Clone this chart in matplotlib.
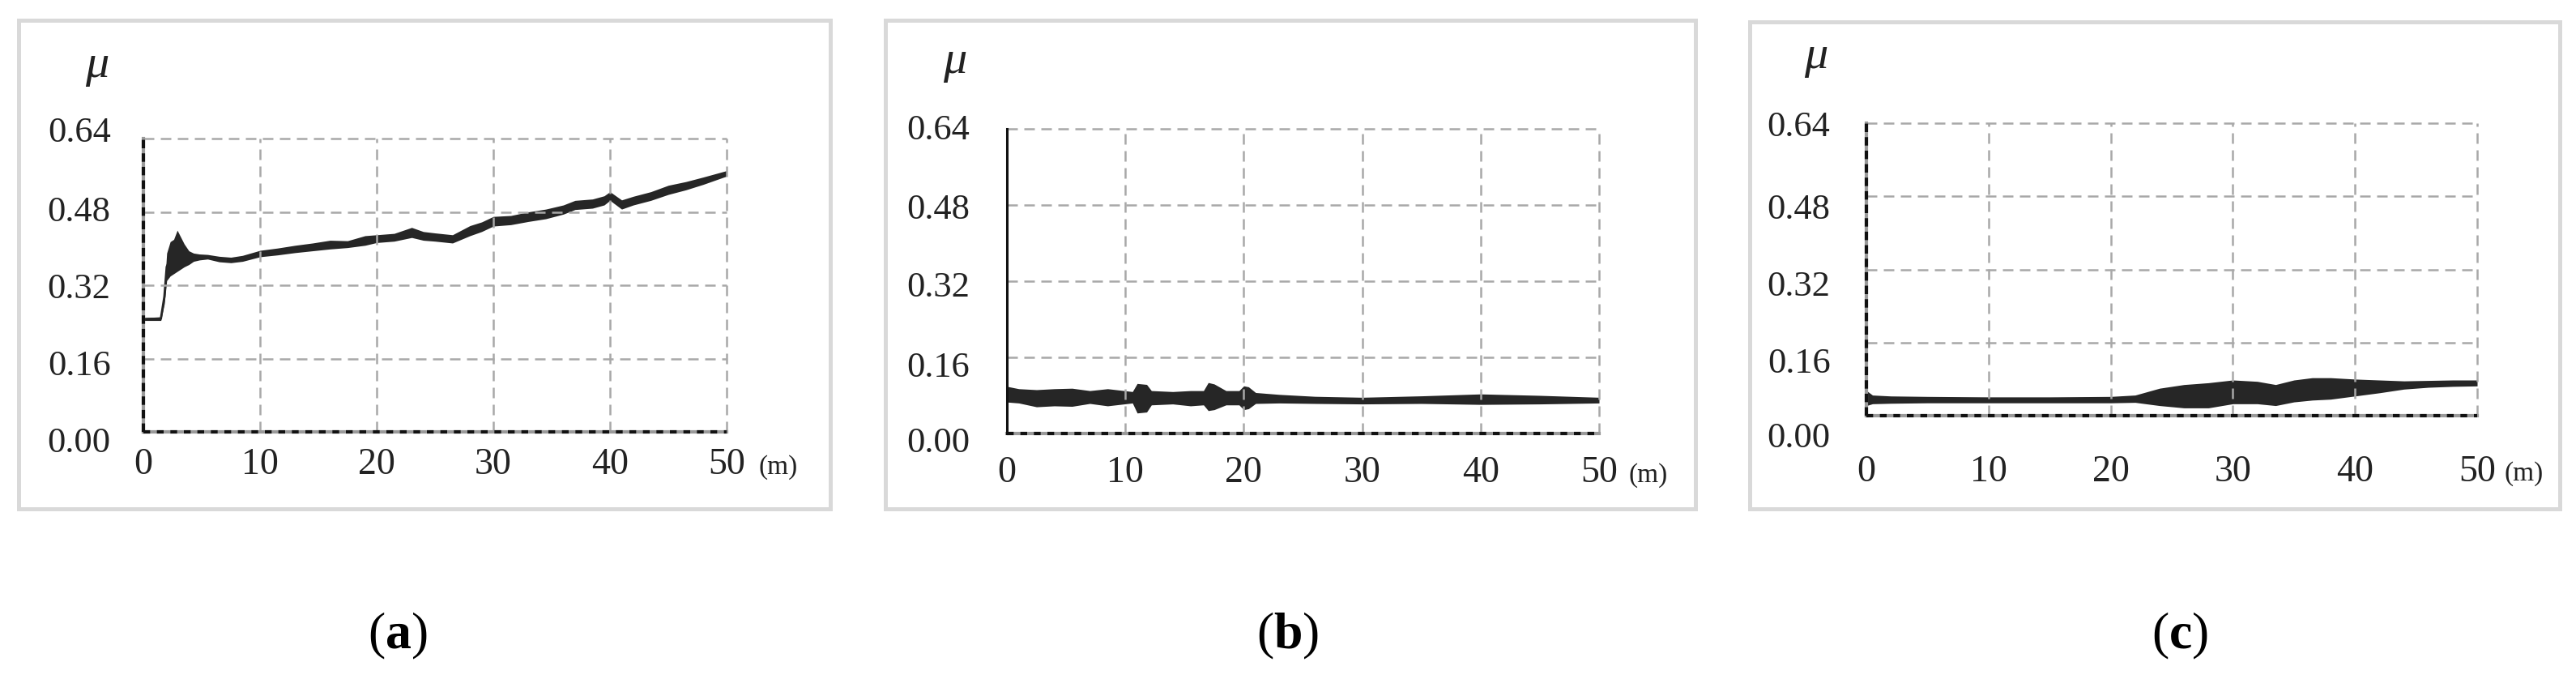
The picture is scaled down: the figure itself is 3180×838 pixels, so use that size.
import numpy as np
import matplotlib
matplotlib.use("Agg")
from matplotlib import pyplot as plt
from matplotlib.patches import Rectangle
from matplotlib.transforms import ScaledTranslation

plt.rcParams["font.family"] = ["Liberation Serif", "DejaVu Serif"]
plt.rcParams["mathtext.fontset"] = "custom"
plt.rcParams["mathtext.rm"] = "Liberation Serif"
plt.rcParams["mathtext.bf"] = "Liberation Serif:bold"
plt.rcParams["mathtext.it"] = "Liberation Serif:italic"

x_ticks = [0, 10, 20, 30, 40, 50]
y_ticks = [0.00, 0.16, 0.32, 0.48, 0.64]
captions = ["a", "b", "c"]

# (a) friction coefficient band (lower / upper edge of the noisy trace)
a_x = [0, 1.5, 1.8, 2.0, 2.3, 2.6, 2.9, 3.2, 3.5, 3.9, 4.3, 4.8, 5.5, 6.5, 7.5, 8.5,
       10, 11.5, 13, 14.5, 16, 17.5, 19, 20, 21.5, 23, 24, 25, 26.5, 28, 29, 30,
       31.5, 33, 34.5, 36, 37, 38.5, 39.5, 40, 41, 42, 43.5, 45, 46.5, 48, 50]
a_low = [0.243, 0.243, 0.28, 0.33, 0.34, 0.345, 0.35, 0.355, 0.36, 0.365, 0.372, 0.375, 0.377, 0.371, 0.369, 0.372,
         0.382, 0.386, 0.391, 0.395, 0.399, 0.402, 0.407, 0.413, 0.416, 0.424, 0.418, 0.416, 0.412, 0.428, 0.437, 0.449,
         0.452, 0.459, 0.465, 0.475, 0.485, 0.488, 0.495, 0.505, 0.486, 0.495, 0.505, 0.518, 0.528, 0.540, 0.558]
a_high = [0.249, 0.251, 0.31, 0.39, 0.415, 0.42, 0.44, 0.425, 0.41, 0.395, 0.39, 0.388, 0.387, 0.383, 0.381, 0.385,
          0.396, 0.401, 0.407, 0.412, 0.418, 0.417, 0.428, 0.430, 0.433, 0.446, 0.437, 0.434, 0.430, 0.450, 0.458, 0.470,
          0.472, 0.480, 0.486, 0.495, 0.505, 0.508, 0.515, 0.524, 0.506, 0.514, 0.524, 0.538, 0.546, 0.556, 0.570]

# (b)
b_x = [0, 1, 2.5, 4, 5.5, 7, 8.5, 10.6, 11.0, 11.8, 12.2, 14, 15.5, 16.6, 17.0, 17.5, 18.5, 19.6, 20.0, 20.4,
       21, 23, 26, 30, 35, 40, 45, 50]
b_low = [0.066, 0.064, 0.056, 0.058, 0.057, 0.063, 0.058, 0.064, 0.043, 0.045, 0.060, 0.062, 0.058, 0.060, 0.048, 0.050,
         0.060, 0.060, 0.050, 0.052, 0.063, 0.064, 0.063, 0.062, 0.063, 0.061, 0.062, 0.064]
b_high = [0.099, 0.094, 0.092, 0.094, 0.095, 0.090, 0.094, 0.088, 0.105, 0.103, 0.090, 0.088, 0.090, 0.090, 0.107, 0.104,
          0.090, 0.090, 0.100, 0.098, 0.086, 0.082, 0.078, 0.076, 0.079, 0.083, 0.080, 0.076]

# (c)
c_x = [0, 0.5, 2, 5, 10, 15, 20, 22, 24, 26, 28, 30, 32, 33.5, 35, 36.5, 38, 40, 42, 44, 46, 48, 50]
c_low = [0.022, 0.026, 0.027, 0.028, 0.028, 0.028, 0.028, 0.029, 0.022, 0.017, 0.017, 0.026, 0.026, 0.022,
         0.030, 0.034, 0.036, 0.043, 0.050, 0.058, 0.062, 0.064, 0.065]
c_high = [0.055, 0.045, 0.043, 0.042, 0.041, 0.041, 0.042, 0.045, 0.060, 0.068, 0.072, 0.078, 0.075, 0.068,
          0.078, 0.083, 0.083, 0.080, 0.078, 0.076, 0.077, 0.078, 0.078]

W, H = 3180, 838
fig = plt.figure(figsize=(W / 100, H / 100), dpi=100)
fig.patch.set_facecolor("white")


def fx(p):
    return p / W


def fy(p):
    return 1 - p / H


def draw_panel(box, frame, xs, low, high, left_solid, xpad, ypad, m_off, mu_xy, cap_x, cap, label_shift):
    l, t, r, b = box
    ax = fig.add_axes([fx(l), fy(b), (r - l) / W, (b - t) / H])
    ax.fill_between(xs, low, high, color="#262626", lw=0, zorder=2)
    ax.plot(xs, (np.array(low) + np.array(high)) / 2, color="#262626", lw=2, zorder=2)
    ax.set_xlim(0, 50)
    ax.set_ylim(0, 0.64)
    for s in ax.spines.values():
        s.set_visible(False)

    grid_kw = dict(color="#a8a8a8", lw=1.8, dashes=(5.2, 3.2), zorder=3, clip_on=False)
    for v in y_ticks[1:]:
        ax.axhline(v, **grid_kw)
    for v in x_ticks[1:]:
        ax.axvline(v, **grid_kw)

    # axis lines
    ax.axhline(0, color="#9a9a9a", lw=3, zorder=4, clip_on=False)
    ax.axhline(0, color="#111111", lw=3, dashes=(2, 2), zorder=5, clip_on=False)
    if left_solid:
        ax.axvline(0, color="#111111", lw=2.2, zorder=5, clip_on=False)
    else:
        ax.axvline(0, color="#9a9a9a", lw=3, zorder=4, clip_on=False)
        ax.axvline(0, color="#111111", lw=3, dashes=(2.5, 1.5), zorder=5, clip_on=False)

    ax.set_xticks(x_ticks)
    ax.set_yticks(y_ticks)
    ax.set_yticklabels([f"{v:.2f}" for v in y_ticks])
    ax.tick_params(length=0, colors="#222222")
    ax.tick_params(axis="x", pad=xpad, labelsize=33)
    ax.tick_params(axis="y", pad=ypad, labelsize=32)
    # the scanned labels sit a little off their grid lines
    for lab, dy in zip(ax.get_yticklabels(), label_shift):
        lab.set_transform(lab.get_transform() + ScaledTranslation(0, -dy / 100, fig.dpi_scale_trans))

    ax.annotate("(m)", xy=(1, 0), xycoords="axes fraction", xytext=m_off,
                textcoords="offset pixels", ha="left", va="center", fontsize=24, color="#222222")

    fig.text(fx(mu_xy[0]), fy(mu_xy[1]), "μ", style="italic", fontsize=42,
             ha="center", va="center", color="#222222")

    x0, y0, x1, y1 = frame
    fig.add_artist(Rectangle((fx(x0), fy(y1)), (x1 - x0) / W, (y1 - y0) / H,
                             transform=fig.transFigure, fill=False, ec="#d9d9d9", lw=3.6))

    fig.text(fx(cap_x), fy(785), r"($\mathbf{" + cap + "}$)", ha="center", va="center",
             fontsize=46, color="black")
    return ax


draw_panel((177, 171, 897, 533), (23, 25, 1025, 628), a_x, a_low, a_high, False,
           14, 29, (40, -44), (120, 81), 491, captions[0], [9, 5, 0, -4, -12])
draw_panel((1243, 159, 1974, 535), (1093, 25, 2093, 628), b_x, b_low, b_high, True,
           20, 33, (36, -52), (1179, 76), 1590, captions[1], [7, 8, 4, 2, -3])
draw_panel((2304, 152, 3058, 513), (2160, 27, 3160, 628), c_x, c_low, c_high, False,
           35, 32, (34, -72), (2242, 70), 2691, captions[2], [24, 22, 17, 12, 0])

fig.savefig("out.png", dpi=100, facecolor="white")
